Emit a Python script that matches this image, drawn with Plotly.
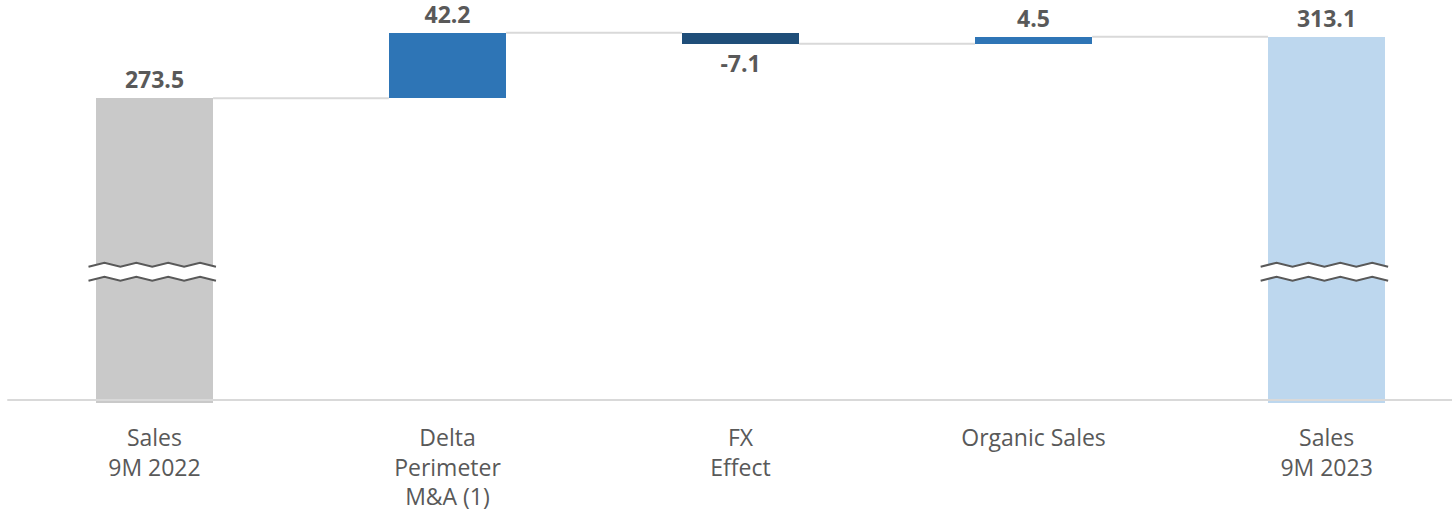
import plotly.graph_objects as go

# ---- data ----
categories = ["Sales<br>9M 2022", "Delta<br>Perimeter<br>M&A (1)", "FX<br>Effect", "Organic Sales", "Sales<br>9M 2023"]
values = [273.5, 42.2, -7.1, 4.5, 313.1]
measures = ["absolute", "relative", "relative", "relative", "total"]
bar_colors = ["#C9C9C9", "#2E75B6", "#1F4E79", "#2E75B6", "#BDD7EE"]
break_bars = [0, 4]

TEXT = "#595959"
FONT = "Open Sans"

# ---- waterfall geometry from data ----
bases, heights, levels = [], [], []
running = 0.0
for v, m in zip(values, measures):
    if m == "absolute":
        bases.append(0.0); heights.append(v); running = v
    elif m == "relative":
        bases.append(running); heights.append(v); running += v
    else:
        bases.append(0.0); heights.append(running)
    levels.append(running)

xs = list(range(len(categories)))
BW = 0.4

fig = go.Figure()
fig.add_trace(go.Bar(
    x=xs, y=heights, base=bases, width=BW,
    marker=dict(color=bar_colors, line=dict(width=0)),
    text=[f"{v:.1f}" for v in values],
    textposition="outside",
    textfont=dict(family=FONT, size=23, color=TEXT, weight="bold"),
    cliponaxis=False,
    showlegend=False,
))

# connectors
for i in range(len(xs) - 1):
    fig.add_trace(go.Scatter(
        x=[xs[i] + BW / 2, xs[i + 1] - BW / 2], y=[levels[i], levels[i]],
        mode="lines", line=dict(color="#D9D9D9", width=2),
        showlegend=False, hoverinfo="skip",
    ))

PLOT_H = 403.0
def ypap(px):
    return 1 - px / PLOT_H

shapes = []
# axis line
shapes.append(dict(type="line", xref="paper", yref="paper", x0=0.005, x1=1.0,
                   y0=ypap(400), y1=ypap(400), line=dict(color="#D9D9D9", width=2), layer="above"))

# break marks on total bars
for b in break_bars:
    x0 = b - 0.225
    x1 = b + 0.21
    n = 8
    pts_x = [x0 + (x1 - x0) * k / n for k in range(n + 1)]
    up = [ypap(266.7 if k % 2 == 0 else 262.7) for k in range(n + 1)]
    lo = [ypap(280.7 if k % 2 == 0 else 276.7) for k in range(n + 1)]
    poly = "M " + " L ".join(f"{x},{y}" for x, y in zip(pts_x, up))
    poly += " L " + " L ".join(f"{x},{y}" for x, y in zip(reversed(pts_x), reversed(lo))) + " Z"
    shapes.append(dict(type="path", xref="x", yref="paper", path=poly,
                       fillcolor="white", line=dict(width=0), layer="above"))
    for ys in (up, lo):
        p = "M " + " L ".join(f"{x},{y}" for x, y in zip(pts_x, ys))
        shapes.append(dict(type="path", xref="x", yref="paper", path=p,
                           line=dict(color="#595959", width=2), layer="above"))

fig.update_layout(
    width=1452, height=514,
    margin=dict(l=0, r=0, t=0, b=111),
    paper_bgcolor="white", plot_bgcolor="white",
    bargap=0,
    shapes=shapes,
    xaxis=dict(range=[-0.527, 4.428], tickvals=xs, ticktext=categories,
               ticks="outside", ticklen=14, tickcolor="rgba(0,0,0,0)",
               tickfont=dict(family=FONT, size=23, color=TEXT),
               showgrid=False, zeroline=False, showline=False, fixedrange=True),
    yaxis=dict(range=[77.4, 336.7], visible=False, showgrid=False, zeroline=False),
)

fig.write_html("out.html")
